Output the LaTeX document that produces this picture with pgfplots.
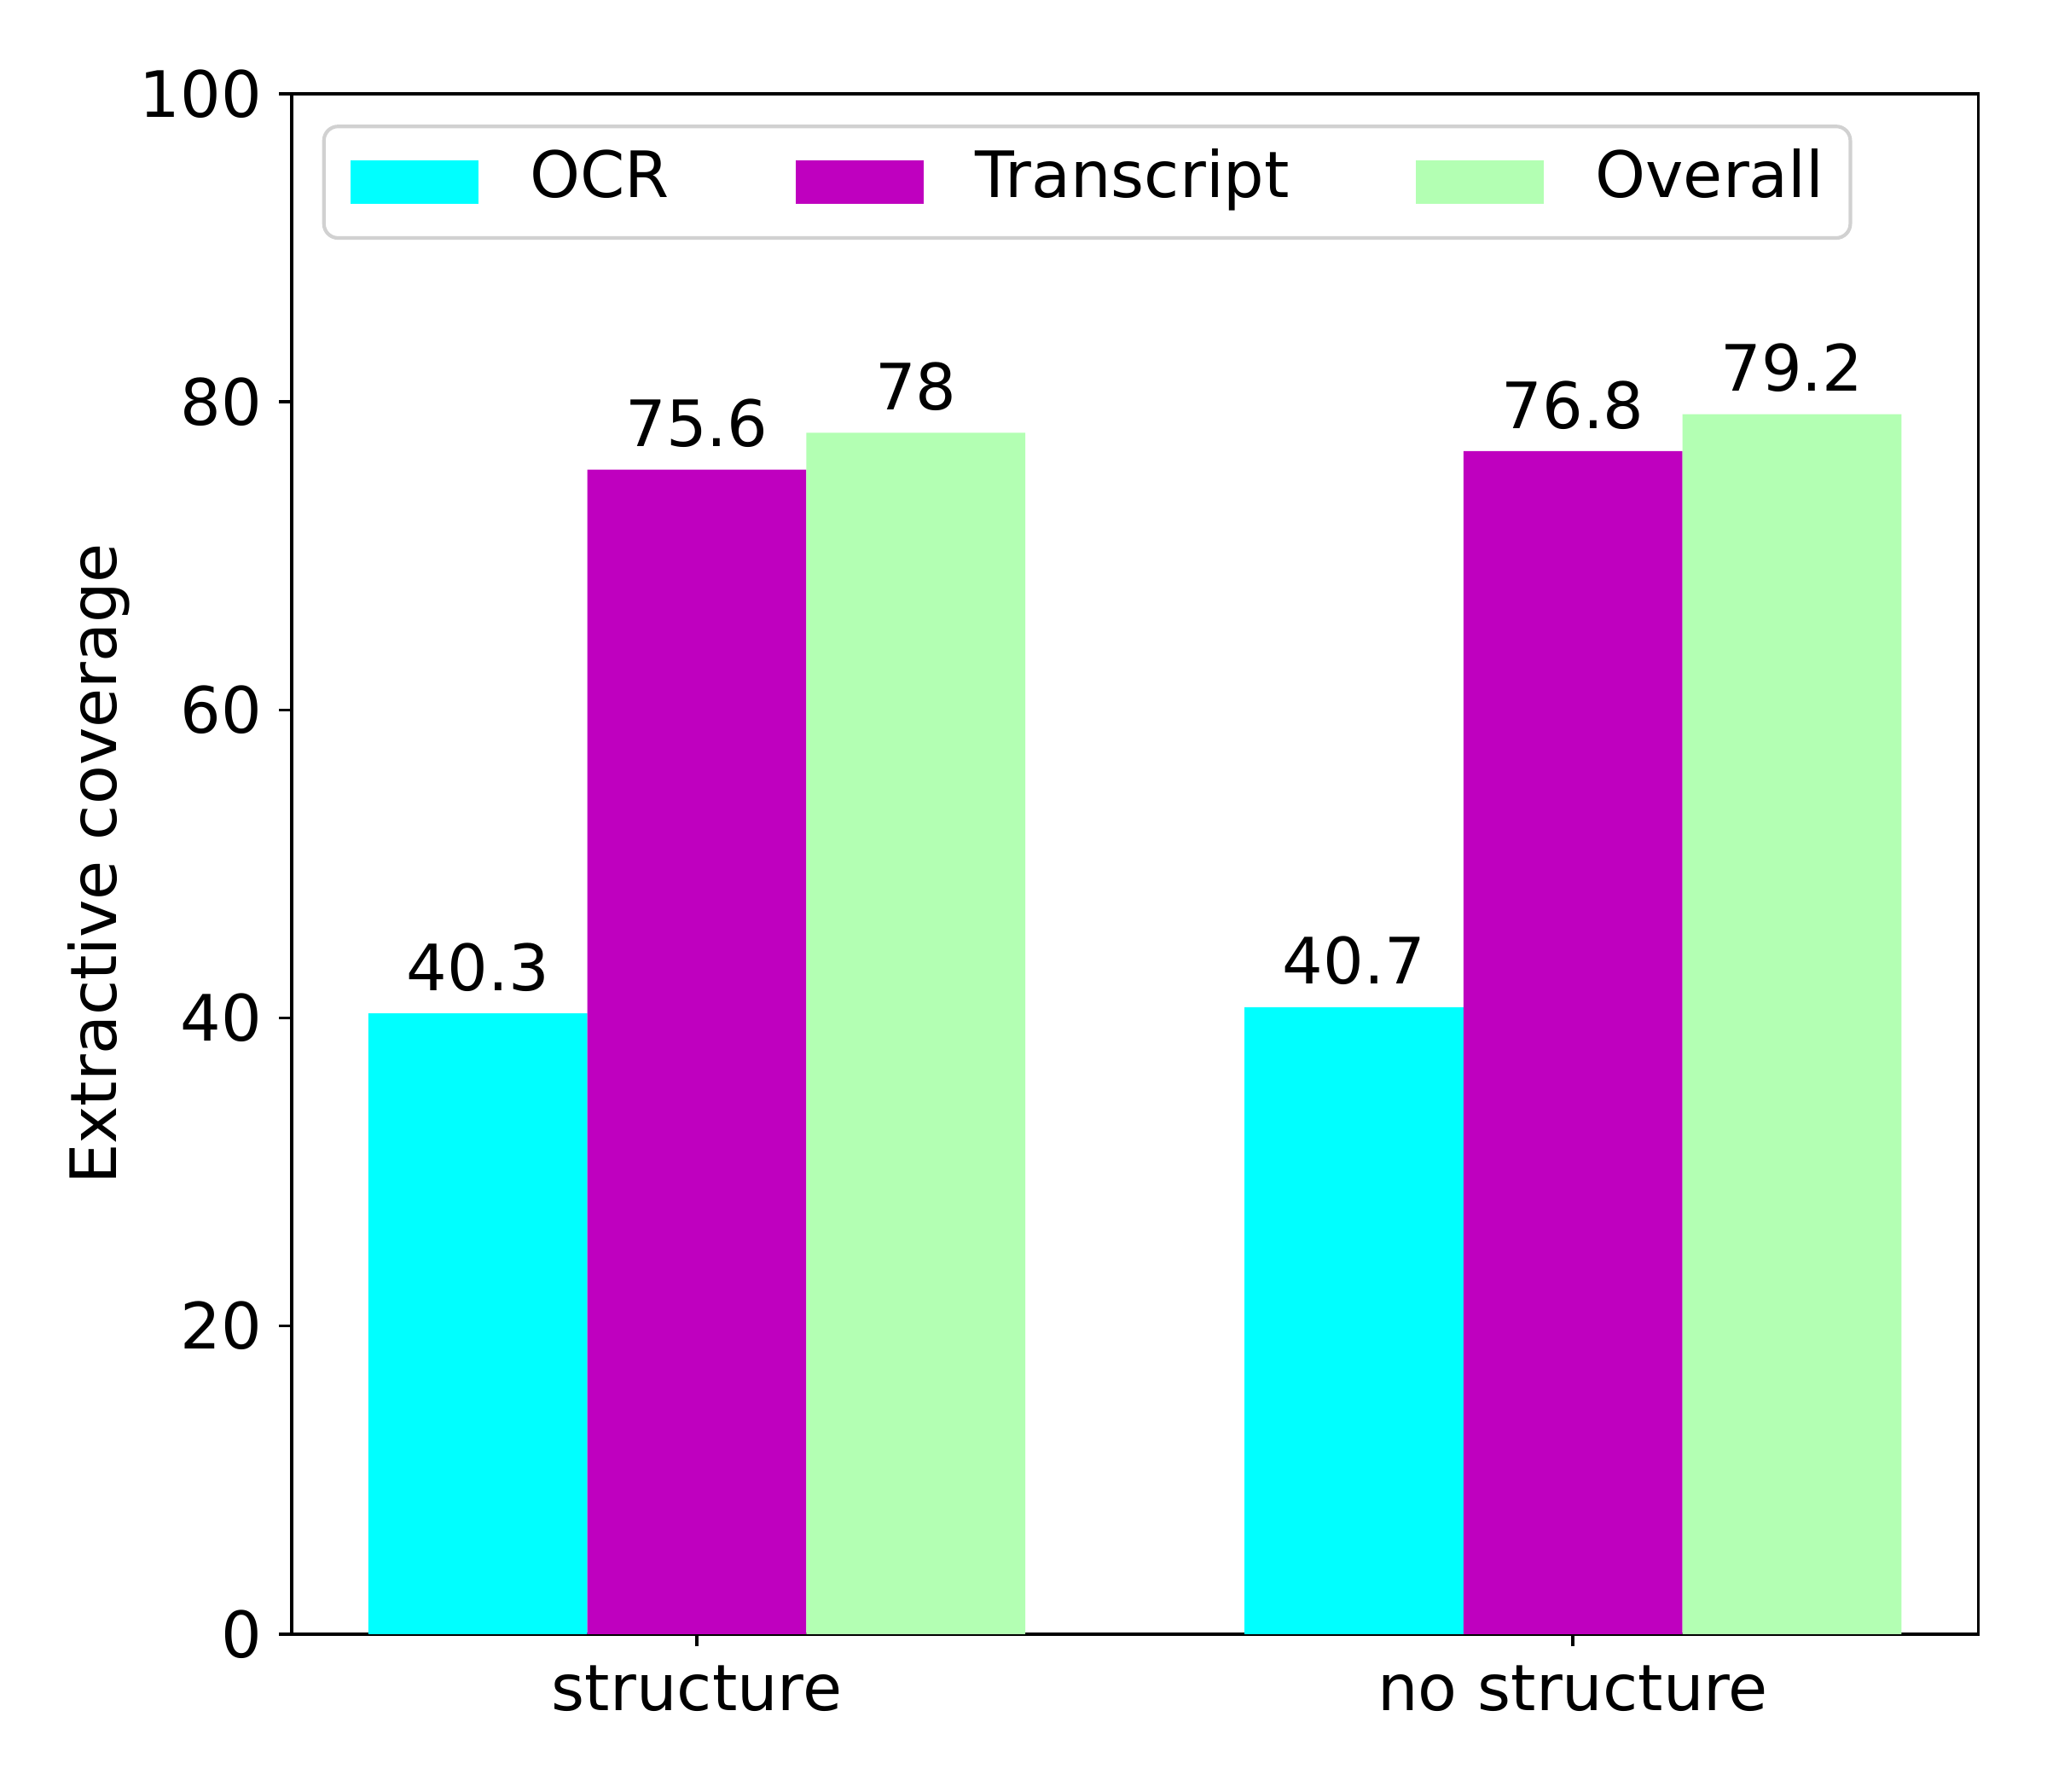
\documentclass[border=0pt]{standalone}
\usepackage{fontspec}
\setmainfont{DejaVu Sans}
\usepackage{pgfplots}
\pgfplotsset{compat=1.18}
\definecolor{ocrc}{HTML}{00FFFF}
\definecolor{trc}{HTML}{BF00BF}
\definecolor{ovc}{HTML}{B3FFB3}
\pgfplotsset{lg/.style={legend image code/.code={\fill[#1, sharp corners] (0pt,-6.1pt) rectangle (36pt,6.1pt);}}}
\begin{document}
\begin{tikzpicture}[font=\fontsize{18}{21.6}\selectfont]
\begin{axis}[
scale only axis,
width=474.5pt, height=433.4pt,
xmin=-0.4625, xmax=1.4625,
ymin=0, ymax=100,
xtick={0,1}, xticklabels={structure, no structure},
ytick={0,20,40,60,80,100},
xtick pos=left, ytick pos=left,
tick align=outside,
major tick length=3.5pt,
tick style={line width=0.8pt, black},
axis line style={line width=0.8pt},
/pgf/number format/assume math mode=true,
yticklabel style={inner sep=0pt, xshift=-4.7pt},
xticklabel style={inner sep=0pt, yshift=-5.2pt},
ylabel={Extractive coverage},
ylabel style={at={(axis description cs:-0.1142,0.5)}, anchor=center},
ybar, bar shift=0pt, bar width=0.25,
nodes near coords,
nodes near coords style={inner sep=0pt, yshift=6pt, anchor=south},
legend style={at={(0.018,0.98)}, anchor=north west, legend columns=3,
  draw=black!18, line width=1pt, rounded corners=4pt,
  inner xsep=7.4pt, inner ysep=7pt,
  nodes={inner sep=0pt, text height=13.1pt, text depth=4.3pt},
  /tikz/every odd column/.append style={column sep=14.6pt},
  /tikz/every even column/.append style={column sep=35.5pt}},
]
\addplot[fill=ocrc, draw=none, lg] coordinates {(-0.25,40.3) (0.75,40.7)};
\addplot[fill=trc, draw=none, lg] coordinates {(0,75.6) (1,76.8)};
\addplot[fill=ovc, draw=none, lg] coordinates {(0.25,78) (1.25,79.2)};
\legend{OCR, Transcript, Overall}
\end{axis}
\pgfresetboundingbox
\path[use as bounding box] ([shift={(-82.1pt,-44.2pt)}]current axis.south west) rectangle ([shift={(19.4pt,26.4pt)}]current axis.north east);
\end{tikzpicture}
\end{document}
